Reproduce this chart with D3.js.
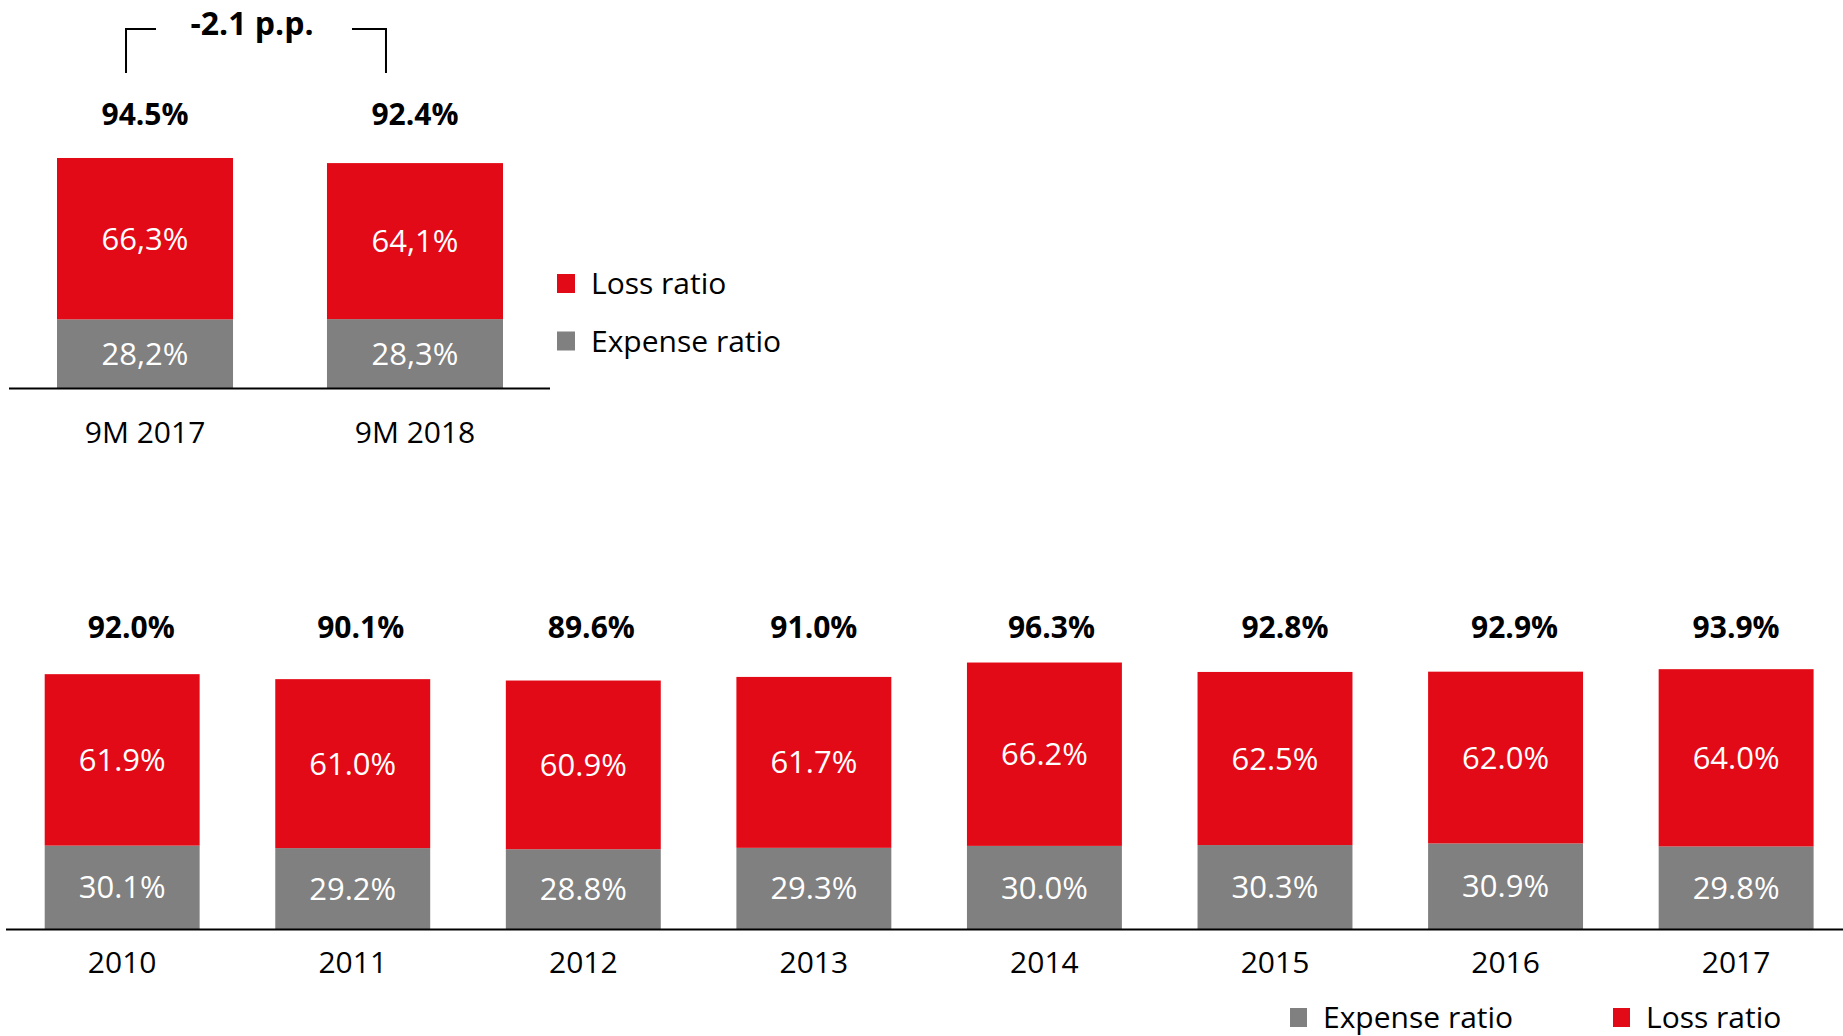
<!DOCTYPE html>
<html>
<head>
<meta charset="utf-8">
<script src="https://cdn.jsdelivr.net/npm/d3@7"></script>
<style>
  html, body { margin: 0; padding: 0; background: #fff; }
  svg { display: block; }
  text { font-family: "Open Sans", "Noto Sans", sans-serif; }
</style>
</head>
<body>
<svg id="chart" width="1843" height="1036"></svg>
<script>
// ---------- DATA ----------
const topCategories = ["9M 2017", "9M 2018"];
const topLoss = [66.3, 64.1];
const topExpense = [28.2, 28.3];
const topTotals = ["94.5%", "92.4%"];
const topLossLabels = ["66,3%", "64,1%"];
const topExpenseLabels = ["28,2%", "28,3%"];
const topChangeLabel = "-2.1 p.p.";

const years = ["2010", "2011", "2012", "2013", "2014", "2015", "2016", "2017"];
const lossRatio = [61.9, 61.0, 60.9, 61.7, 66.2, 62.5, 62.0, 64.0];
const expenseRatio = [30.1, 29.2, 28.8, 29.3, 30.0, 30.3, 30.9, 29.8];
const combinedLabels = ["92.0%", "90.1%", "89.6%", "91.0%", "96.3%", "92.8%", "92.9%", "93.9%"];

const seriesNames = { loss: "Loss ratio", expense: "Expense ratio" };

// ---------- LAYOUT / STYLE ----------
const RED = "#E30A17";
const GREY = "#808080";
const totalNudge = [9, 8, 8, 0, 7, 10, 9, 0];   // horizontal offset of the total labels, px

const svg = d3.select("#chart");
const FS = 31;          // value label font size
const FST = 30;         // totals font size
const FSC = 30;         // category / legend font size
const capOff = fs => fs * 0.357;   // shift baseline so digits center at y

// ---------- TOP CHART ----------
const xTop = d3.scaleBand().domain(topCategories).range([57, 503]).paddingInner(0.348).paddingOuter(0);
const yTop = d3.scaleLinear().domain([0, 100]).range([388, 144.6]);

const topData = topCategories.map((c, i) => ({ c, loss: topLoss[i], exp: topExpense[i], total: topTotals[i], ll: topLossLabels[i], el: topExpenseLabels[i] }));

const gTop = svg.append("g");
gTop.selectAll("rect.exp").data(topData).join("rect")
  .attr("x", d => xTop(d.c)).attr("width", xTop.bandwidth())
  .attr("y", d => yTop(d.exp)).attr("height", d => yTop(0) - yTop(d.exp))
  .attr("fill", GREY);
gTop.selectAll("rect.loss").data(topData).join("rect")
  .attr("x", d => xTop(d.c)).attr("width", xTop.bandwidth())
  .attr("y", d => yTop(d.exp + d.loss)).attr("height", d => yTop(d.exp) - yTop(d.exp + d.loss))
  .attr("fill", RED);

gTop.selectAll("text.ll").data(topData).join("text")
  .attr("x", d => xTop(d.c) + xTop.bandwidth() / 2)
  .attr("y", d => (yTop(d.exp) + yTop(d.exp + d.loss)) / 2 + capOff(FS))
  .attr("text-anchor", "middle").attr("fill", "#fff").attr("font-size", FS)
  .text(d => d.ll);
gTop.selectAll("text.el").data(topData).join("text")
  .attr("x", d => xTop(d.c) + xTop.bandwidth() / 2)
  .attr("y", d => (yTop(0) + yTop(d.exp)) / 2 + capOff(FS))
  .attr("text-anchor", "middle").attr("fill", "#fff").attr("font-size", FS)
  .text(d => d.el);
gTop.selectAll("text.tot").data(topData).join("text")
  .attr("x", d => xTop(d.c) + xTop.bandwidth() / 2)
  .attr("y", 114 + capOff(FST))
  .attr("text-anchor", "middle").attr("fill", "#000").attr("font-size", FST).attr("font-weight", "bold")
  .text(d => d.total);

// axis
const axTop = d3.axisBottom(xTop).tickSize(0).tickPadding(0);
const gAxTop = gTop.append("g").attr("transform", `translate(0,${yTop(0)})`).call(axTop);
gAxTop.select(".domain").remove();
gAxTop.selectAll("text").attr("font-size", FSC).attr("fill", "#000")
  .attr("font-family", "'Open Sans', sans-serif").attr("dy", null).attr("y", 44 + capOff(FSC));
gTop.append("line").attr("x1", 9).attr("x2", 550).attr("y1", yTop(0) + 0.5).attr("y2", yTop(0) + 0.5)
  .attr("stroke", "#000").attr("stroke-width", 2);

// bracket
const c1 = xTop(topCategories[0]) + xTop.bandwidth() / 2;
const c2 = xTop(topCategories[1]) + xTop.bandwidth() / 2;
gTop.append("path")
  .attr("d", `M${c1 - 19},73 V29 H${c1 + 11}`)
  .attr("fill", "none").attr("stroke", "#000").attr("stroke-width", 2);
gTop.append("path")
  .attr("d", `M${c2 - 63},29 H${c2 - 29} V73`)
  .attr("fill", "none").attr("stroke", "#000").attr("stroke-width", 2);
gTop.append("text").attr("x", (c1 + c2) / 2 - 28).attr("y", 24 + capOff(32))
  .attr("text-anchor", "middle").attr("font-size", 32).attr("font-weight", "bold").attr("fill", "#000")
  .text(topChangeLabel);

// top legend
const topLegend = [{ name: seriesNames.loss, color: RED, y: 283.5 }, { name: seriesNames.expense, color: GREY, y: 341 }];
const gTL = gTop.selectAll("g.tl").data(topLegend).join("g");
gTL.append("rect").attr("x", 557).attr("y", d => d.y - 9.5).attr("width", 18).attr("height", 19).attr("fill", d => d.color);
gTL.append("text").attr("x", 591).attr("y", d => d.y + capOff(FSC)).attr("font-size", FSC).attr("fill", "#000").text(d => d.name);

// ---------- BOTTOM CHART ----------
const x = d3.scaleBand().domain(years).range([44.7, 1813.6]).paddingInner(0.328).paddingOuter(0);
const y = d3.scaleLinear().domain([0, 100]).range([929, 652]);

const data = years.map((yr, i) => ({ yr, i, loss: lossRatio[i], exp: expenseRatio[i], total: combinedLabels[i] }));
const gB = svg.append("g");
gB.selectAll("rect.exp").data(data).join("rect")
  .attr("x", d => x(d.yr)).attr("width", x.bandwidth())
  .attr("y", d => y(d.exp)).attr("height", d => y(0) - y(d.exp)).attr("fill", GREY);
gB.selectAll("rect.loss").data(data).join("rect")
  .attr("x", d => x(d.yr)).attr("width", x.bandwidth())
  .attr("y", d => y(d.exp + d.loss)).attr("height", d => y(d.exp) - y(d.exp + d.loss)).attr("fill", RED);

gB.selectAll("text.ll").data(data).join("text")
  .attr("x", d => x(d.yr) + x.bandwidth() / 2)
  .attr("y", d => (y(d.exp) + y(d.exp + d.loss)) / 2 + capOff(FS))
  .attr("text-anchor", "middle").attr("fill", "#fff").attr("font-size", FS)
  .text(d => d.loss.toFixed(1) + "%");
gB.selectAll("text.el").data(data).join("text")
  .attr("x", d => x(d.yr) + x.bandwidth() / 2)
  .attr("y", d => (y(0) + y(d.exp)) / 2 + capOff(FS))
  .attr("text-anchor", "middle").attr("fill", "#fff").attr("font-size", FS)
  .text(d => d.exp.toFixed(1) + "%");
gB.selectAll("text.tot").data(data).join("text")
  .attr("x", d => x(d.yr) + x.bandwidth() / 2 + totalNudge[d.i])
  .attr("y", 627.5 + capOff(FST))
  .attr("text-anchor", "middle").attr("fill", "#000").attr("font-size", FST).attr("font-weight", "bold")
  .text(d => d.total);

const axB = d3.axisBottom(x).tickSize(0).tickPadding(0);
const gAxB = gB.append("g").attr("transform", `translate(0,${y(0)})`).call(axB);
gAxB.select(".domain").remove();
gAxB.selectAll("text").attr("font-size", FSC).attr("fill", "#000")
  .attr("font-family", "'Open Sans', sans-serif").attr("dy", null).attr("y", 33 + capOff(FSC));
gB.append("line").attr("x1", 6).attr("x2", 1843).attr("y1", y(0) + 0.5).attr("y2", y(0) + 0.5)
  .attr("stroke", "#000").attr("stroke-width", 2);

// bottom legend
const botLegend = [{ name: seriesNames.expense, color: GREY, x: 1290 }, { name: seriesNames.loss, color: RED, x: 1613 }];
const gBL = gB.selectAll("g.bl").data(botLegend).join("g");
gBL.append("rect").attr("x", d => d.x).attr("y", 1008).attr("width", 17).attr("height", 19).attr("fill", d => d.color);
gBL.append("text").attr("x", d => d.x + 33).attr("y", 1017.5 + capOff(FSC)).attr("font-size", FSC).attr("fill", "#000").text(d => d.name);
</script>
</body>
</html>
